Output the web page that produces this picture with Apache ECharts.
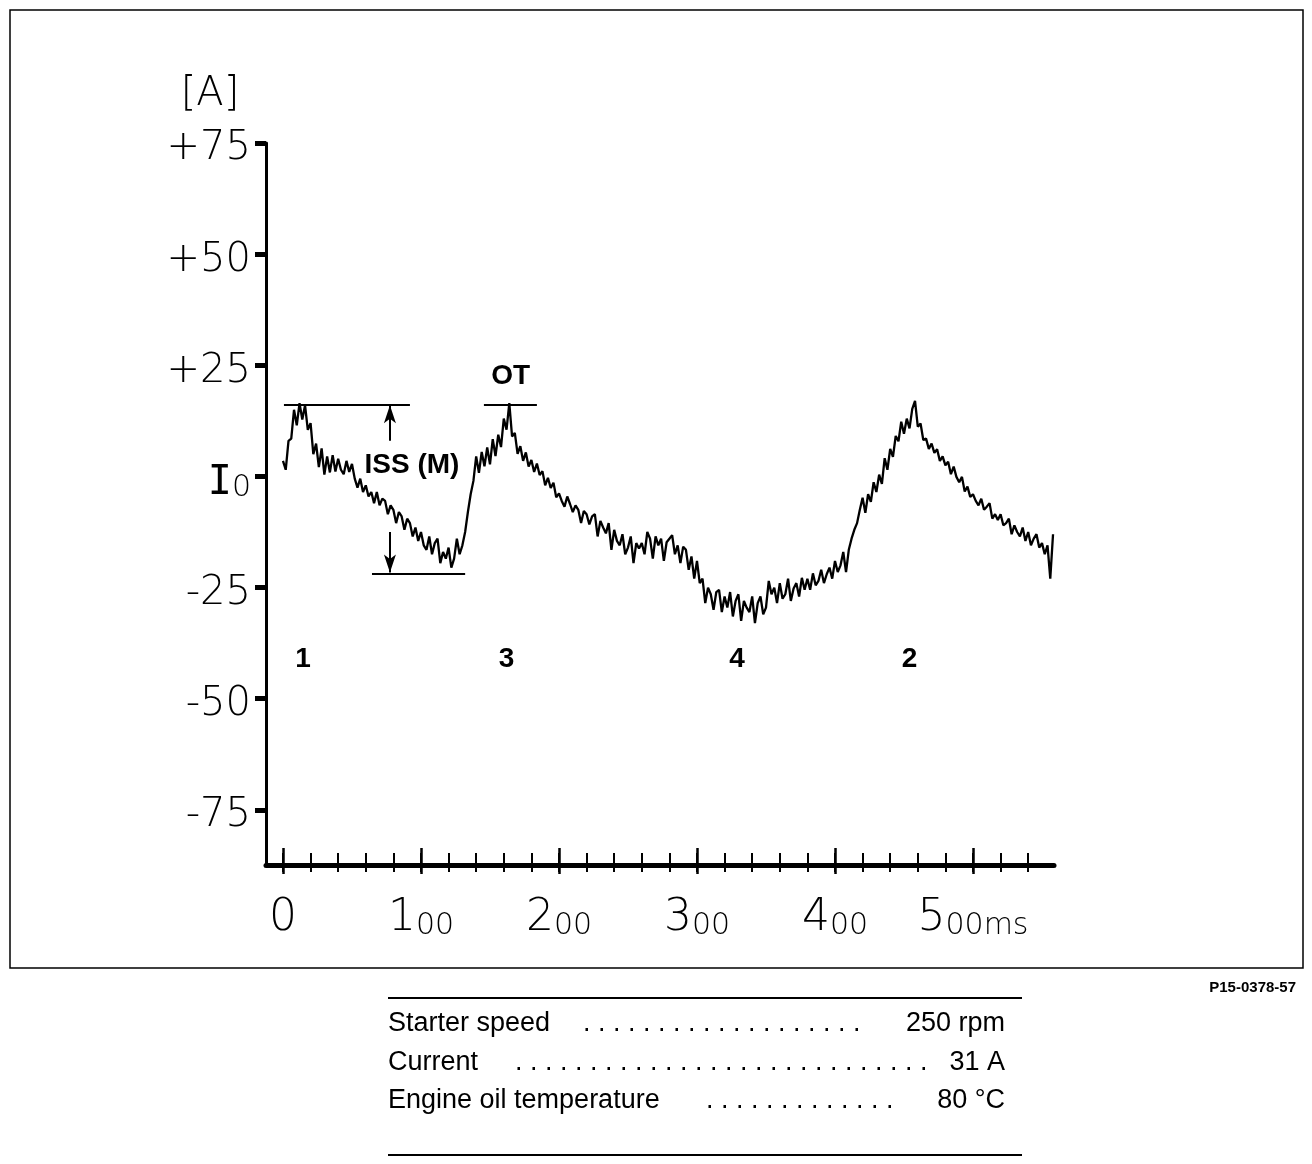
<!DOCTYPE html>
<html><head><meta charset="utf-8">
<script src="https://cdn.jsdelivr.net/npm/echarts@6/dist/echarts.min.js"></script>
<style>html,body{margin:0;padding:0;background:#fff}#c{width:1312px;height:1164px}</style>
</head><body><div id="c"></div>
<script>
// ---- data ----
const timeStartMs = 0;
const sampleStepMs = 2;
const currentA = [
  3.5, 1.5, 8, 8.5, 15, 11.5, 16.5, 12.8, 16, 10.5,
  12, 5, 7.4, 2.1, 6.3, 0.4, 4.5, 0.9, 4.8, 1.1,
  4, 1.5, 0.5, 3.5, 1, 2.8, -0.5, -2.5, -0.5, -3.5,
  -2, -4.5, -3.5, -6, -3.5, -6.5, -5, -5.5, -8.5, -6.5,
  -7.5, -10.5, -8, -9, -12, -9.5, -10.5, -13.5, -11.5, -14.5,
  -12.5, -15.5, -16.5, -13.5, -17.5, -15, -14, -19.5, -17, -18.5,
  -16, -20.5, -18.5, -14, -17.5, -15.5, -12.5, -8, -4, -1,
  4.5, 0.8, 5.5, 2.3, 6.5, 2.7, 8.4, 4.6, 9.4, 6.6,
  13, 10.5, 16.5, 9, 9.8, 5.1, 6.8, 3.5, 5.4, 2.2,
  3.7, 1, 2.9, 0.3, 1.2, -2, -0.3, -2.6, -1.4, -4.7,
  -3.8, -5.5, -6.8, -4.5, -6.2, -8, -6.5, -7.5, -10.5, -7.8,
  -8.5, -10.8, -9, -8.5, -13.5, -10, -11.5, -12.8, -10.5, -16.5,
  -12, -14.5, -15.5, -13, -17.5, -16, -13.5, -19.5, -15, -16.2,
  -15, -17.5, -12.5, -14, -18.5, -13.5, -15.5, -14, -19, -14.8,
  -14, -13.2, -17.5, -15.5, -19.5, -15.8, -16.5, -21, -18, -23,
  -19, -24, -23, -28.5, -25, -26.5, -30, -26, -25.5, -30.5,
  -27, -29.5, -26, -31.5, -28, -26.5, -32.5, -28, -29.5, -30.5,
  -27, -33, -28.5, -27, -31, -29.5, -23.5, -26.5, -25, -28.5,
  -24, -27.5, -26.5, -23, -28, -25.2, -24, -27, -22.8, -25.5,
  -23, -25.5, -21.8, -24.5, -23.5, -21, -24, -22, -20.5, -23,
  -19, -21.5, -20, -17, -21.5, -16.5, -14, -12, -10.5, -7.5,
  -4.8, -8.2, -4, -5.7, -1.3, -3.5, 0.4, -1.7, 4.1, 1.5,
  6.2, 4.4, 9.1, 7.9, 12.3, 9.6, 13, 10.8, 15.2, 17,
  11.2, 11.9, 8.2, 8.5, 6.2, 7.4, 5.3, 6.1, 3.5, 4.5,
  2.5, 3.3, 0.5, 2.2, -0.1, -1.3, -0.1, -3.4, -2.3, -4.6,
  -4, -5.5, -6.5, -5, -7.5, -6.8, -6, -9.5, -8.5, -9.8,
  -8.5, -11, -10.5, -9.5, -13, -11, -12.5, -13.5, -11.5, -14.5,
  -12.5, -15.5, -14, -13, -16, -15, -17.5, -15.5, -23, -13
];
const yTickValues = [-75, -50, -25, 0, 25, 50, 75];
const yTickLabels = ['-75', '-50', '-25', 'I0', '+25', '+50', '+75'];
const xMajorTicks = [0, 100, 200, 300, 400, 500];
const xTickLabels = ['0', '100', '200', '300', '400', '500ms'];
const xMinorTicks = [0, 20, 40, 60, 80, 100, 120, 140, 160, 180, 200, 220, 240, 260, 280, 300, 320, 340, 360, 380, 400, 420, 440, 460, 480, 500, 520, 540];
// reference lines: [startMs, endMs, amps]
const refLines = [[0.7, 92, 16.2], [64.5, 132, -21.8], [145.6, 184, 16.2]];
// arrows: [ms, fromA, toA]
const arrows = [[77.5, 8.0, 16.0], [77.5, -12.5, -21.6]];
const markerLabels = ['OT', 'ISS (M)', '1', '3', '4', '2'];
const markerMs = [165, 93.5, 14.5, 162, 329, 454];
const markerA = [22.5, 2.5, -41.2, -41.2, -41.2, -41.2];
const tableLabels = ['Starter speed', 'Current', 'Engine oil temperature'];
const tableValues = ['250 rpm', '31 A', '80 °C'];
const figureCode = 'P15-0378-57';
const unitLabel = '[A]';

// ---- chart ----
const chart = echarts.init(document.getElementById('c'), null, {renderer: 'canvas'});
const X_MIN = -12.3, X_MAX = 558.7, Y_MIN = -87.4, Y_MAX = 75;
const AX = 'DejaVu Sans';

function xAxisCfg(ticks, inside, len, width, showLine, showLabel) {
  return {
    type: 'value', min: X_MIN, max: X_MAX, position: 'bottom', offset: 0,
    splitLine: {show: false},
    axisLine: {show: showLine, onZero: false, lineStyle: {color: '#000', width: 5}},
    axisTick: {show: true, inside: inside, length: len, customValues: ticks, lineStyle: {color: '#000', width: width}},
    axisLabel: {
      show: showLabel, customValues: xMajorTicks, margin: 30, color: '#000',
      formatter: function (v) {
        const i = xMajorTicks.indexOf(v);
        const s = i >= 0 ? xTickLabels[i] : '';
        if (s.length <= 1) return '{b|' + s + '}';
        return '{b|' + s[0] + '}{s|' + s.slice(1) + '}';
      },
      rich: {
        b: {fontFamily: AX, fontWeight: 200, fontSize: 44, color: '#000', verticalAlign: 'bottom', lineHeight: 46},
        s: {fontFamily: AX, fontWeight: 200, fontSize: 30, color: '#000', verticalAlign: 'bottom', lineHeight: 46}
      }
    }
  };
}

const option = {
  animation: false,
  backgroundColor: '#fff',
  grid: {left: 266, top: 143, width: 788, height: 722, containLabel: false},
  xAxis: [
    xAxisCfg(xMinorTicks, false, 7, 2, true, true),
    xAxisCfg(xMinorTicks, true, 12, 2, false, false),
    xAxisCfg(xMajorTicks, false, 9, 2.5, false, false),
    xAxisCfg(xMajorTicks, true, 17, 2.5, false, false)
  ],
  yAxis: {
    type: 'value', min: Y_MIN, max: Y_MAX,
    splitLine: {show: false},
    axisLine: {show: true, onZero: false, lineStyle: {color: '#000', width: 3}},
    axisTick: {show: true, inside: false, length: 11, customValues: yTickValues, lineStyle: {color: '#000', width: 5}},
    axisLabel: {
      show: true, customValues: yTickValues, margin: 15, color: '#000',
      fontFamily: AX, fontWeight: 200, fontSize: 40, padding: [12, 0, 0, 0],
      formatter: function (v) {
        const i = yTickValues.indexOf(v);
        const s = i >= 0 ? yTickLabels[i] : '';
        if (s === 'I0') return '{i|I}{z|0}';
        return s;
      },
      rich: {
        i: {fontFamily: 'DejaVu Sans Mono', fontSize: 40, color: '#000', verticalAlign: 'bottom', lineHeight: 42},
        z: {fontFamily: AX, fontWeight: 200, fontSize: 30, color: '#000', verticalAlign: 'bottom', lineHeight: 42}
      }
    }
  },
  series: [{
    type: 'line',
    xAxisIndex: 0,
    data: currentA.map((v, i) => [timeStartMs + i * sampleStepMs, v]),
    showSymbol: false,
    symbol: 'none',
    lineStyle: {color: '#000', width: 2.3},
    silent: true,
    markLine: {
      silent: true, animation: false,
      symbol: ['none', 'none'],
      lineStyle: {color: '#000', width: 2, type: 'solid'},
      label: {show: false},
      emphasis: {disabled: true},
      data: [
        ...refLines.map(r => [{coord: [r[0], r[2]]}, {coord: [r[1], r[2]]}]),
        ...arrows.map(a => [{coord: [a[0], a[1]], symbol: 'none'}, {coord: [a[0], a[2]], symbol: 'arrow', symbolSize: [9, 18]}])
      ]
    },
    markPoint: {
      silent: true, animation: false,
      symbol: 'circle', symbolSize: 1,
      itemStyle: {color: 'rgba(0,0,0,0)'},
      label: {show: true, position: 'inside', formatter: '{b}', color: '#000',
        fontFamily: 'Liberation Sans', fontWeight: 'bold', fontSize: 28},
      data: markerLabels.map((n, i) => ({name: n, coord: [markerMs[i], markerA[i]]}))
    }
  }],
  graphic: [
    {type: 'rect', shape: {x: 10, y: 10, width: 1293, height: 958}, style: {fill: 'none', stroke: '#000', lineWidth: 1.5}, silent: true},
    {type: 'text', style: {text: unitLabel, x: 210, y: 95, font: '200 40px "DejaVu Sans"', fill: '#000', align: 'center', verticalAlign: 'middle', textAlign: 'center', textVerticalAlign: 'middle'}},
    {type: 'text', style: {text: figureCode, x: 1296, y: 988, font: 'bold 15px "Liberation Sans"', fill: '#000', align: 'right', verticalAlign: 'middle', textAlign: 'right', textVerticalAlign: 'middle'}},
    {type: 'line', shape: {x1: 388, y1: 998, x2: 1022, y2: 998}, style: {stroke: '#000', lineWidth: 2}},
    {type: 'line', shape: {x1: 388, y1: 1155, x2: 1022, y2: 1155}, style: {stroke: '#000', lineWidth: 2}},
    ...tableLabels.map((t, i) => ({type: 'text', style: {text: t, x: 388, y: 1024 + i * 38.5, font: '27px "Liberation Sans"', fill: '#000', align: 'left', verticalAlign: 'middle', textAlign: 'left', textVerticalAlign: 'middle'}})),
    ...tableValues.map((t, i) => ({type: 'text', style: {text: t, x: 1005, y: 1024 + i * 38.5, font: '27px "Liberation Sans"', fill: '#000', align: 'right', verticalAlign: 'middle', textAlign: 'right', textVerticalAlign: 'middle'}})),
    ...[[583, 19], [515, 28], [706, 13]].map((d, i) => ({type: 'text', style: {text: Array(d[1]).fill('.').join(' '), x: d[0], y: 1024 + i * 38.5, font: '27px "Liberation Sans"', fill: '#000', align: 'left', verticalAlign: 'middle', textAlign: 'left', textVerticalAlign: 'middle'}}))
  ]
};
chart.setOption(option);
</script>
</body></html>
